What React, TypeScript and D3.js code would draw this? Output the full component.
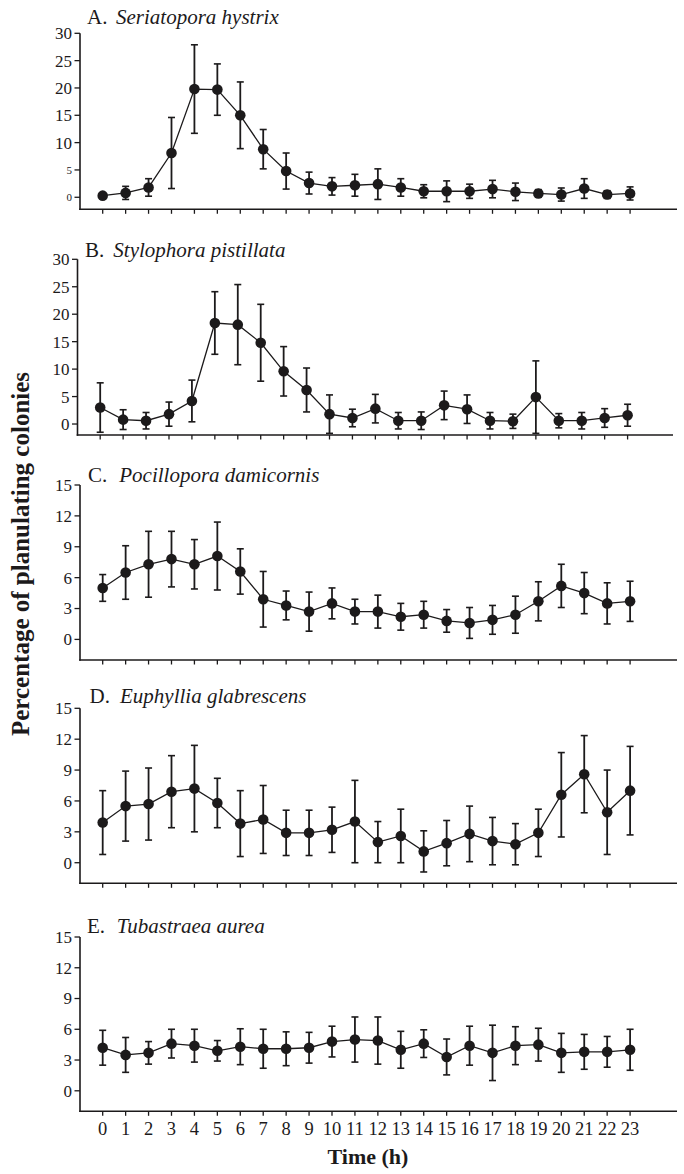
import React from "react";
import * as d3 from "d3";

const hours = d3.range(0, 24);
const hourLabels = hours.map((h) => String(h));

const letters = ["A.", "B.", "C.", "D.", "E."];
const species = [
  "Seriatopora hystrix",
  "Stylophora pistillata",
  "Pocillopora damicornis",
  "Euphyllia glabrescens",
  "Tubastraea aurea",
];

const meanA = [0.3, 0.8, 1.8, 8.1, 19.8, 19.7, 15.0, 8.8, 4.8, 2.6, 2.0, 2.2, 2.4, 1.8, 1.1, 1.1, 1.1, 1.5, 1.0, 0.7, 0.5, 1.6, 0.5, 0.7];
const errA = [0, 1.2, 1.6, 6.5, 8.1, 4.7, 6.1, 3.6, 3.3, 2.0, 1.6, 2.0, 2.8, 1.6, 1.2, 1.9, 1.3, 1.6, 1.6, 0.7, 1.2, 1.8, 0.7, 1.2];

const meanB = [3.0, 0.8, 0.6, 1.8, 4.2, 18.4, 18.1, 14.8, 9.6, 6.2, 1.8, 1.1, 2.8, 0.6, 0.6, 3.4, 2.7, 0.6, 0.5, 4.9, 0.6, 0.6, 1.1, 1.6];
const errB = [4.5, 1.8, 1.5, 2.2, 3.8, 5.7, 7.3, 7.0, 4.5, 4.0, 3.5, 1.6, 2.6, 1.5, 1.6, 2.6, 2.6, 1.5, 1.3, 6.6, 1.3, 1.5, 1.7, 2.0];

const meanC = [5.0, 6.5, 7.3, 7.8, 7.3, 8.1, 6.6, 3.9, 3.3, 2.7, 3.5, 2.7, 2.7, 2.2, 2.4, 1.8, 1.6, 1.9, 2.4, 3.7, 5.2, 4.5, 3.5, 3.7];
const errC = [1.3, 2.6, 3.2, 2.7, 2.4, 3.3, 2.2, 2.7, 1.4, 1.9, 1.5, 1.2, 1.6, 1.3, 1.3, 1.1, 1.5, 1.4, 1.8, 1.9, 2.1, 2.0, 2.0, 1.95];

const meanD = [3.9, 5.5, 5.7, 6.9, 7.2, 5.8, 3.8, 4.2, 2.9, 2.9, 3.2, 4.0, 2.0, 2.6, 1.1, 1.9, 2.8, 2.1, 1.8, 2.9, 6.6, 8.6, 4.9, 7.0];
const errD = [3.1, 3.4, 3.5, 3.5, 4.2, 2.4, 3.2, 3.3, 2.2, 2.2, 2.2, 4.0, 2.0, 2.6, 2.0, 2.2, 2.7, 2.3, 2.0, 2.3, 4.1, 3.75, 4.1, 4.3];

const meanE = [4.2, 3.5, 3.7, 4.6, 4.4, 3.9, 4.3, 4.1, 4.1, 4.2, 4.8, 5.0, 4.9, 4.0, 4.6, 3.3, 4.4, 3.7, 4.4, 4.5, 3.7, 3.8, 3.8, 4.0];
const errE = [1.7, 1.7, 1.1, 1.4, 1.6, 1.0, 1.75, 1.9, 1.65, 1.5, 1.5, 2.2, 2.3, 1.8, 1.35, 1.75, 1.9, 2.7, 1.85, 1.6, 1.9, 1.7, 1.5, 2.0];

const ticksAB = [0, 5, 10, 15, 20, 25, 30];
const ticksCDE = [0, 3, 6, 9, 12, 15];
const smallTicksA = [0, 5];

const yLabel = "Percentage of planulating colonies";
const xLabel = "Time (h)";

const INK = "#1c1a1b";
const FONT = "'Liberation Serif', 'Times New Roman', serif";

type PanelGeom = {
  axisX: number;
  x0: number;
  xEnd: number;
  yTop: number;
  axisY: number;
  domain: [number, number];
  titleX: number;
  titleY: number;
  speciesX: number;
};

const geoms: PanelGeom[] = [
  { axisX: 80, x0: 102.7, xEnd: 677, yTop: 33.3, axisY: 209.3, domain: [-2.2, 30], titleX: 87, titleY: 24, speciesX: 116 },
  { axisX: 77.5, x0: 100.2, xEnd: 673, yTop: 259.3, axisY: 435, domain: [-2, 30], titleX: 85, titleY: 256.7, speciesX: 113.3 },
  { axisX: 80, x0: 102.7, xEnd: 677, yTop: 485, axisY: 660, domain: [-2, 15], titleX: 88, titleY: 482, speciesX: 119.3 },
  { axisX: 80, x0: 102.7, xEnd: 677, yTop: 708.3, axisY: 883.3, domain: [-2, 15], titleX: 89.5, titleY: 703, speciesX: 120 },
  { axisX: 80, x0: 102.7, xEnd: 677, yTop: 937, axisY: 1111.3, domain: [-2, 15], titleX: 87, titleY: 933, speciesX: 116.7 },
];

const means = [meanA, meanB, meanC, meanD, meanE];
const errs = [errA, errB, errC, errD, errE];
const tickSets = [ticksAB, ticksAB, ticksCDE, ticksCDE, ticksCDE];

function Panel({ idx }: { idx: number }) {
  const g = geoms[idx];
  const m = means[idx];
  const e = errs[idx];
  const ticks = tickSets[idx];
  const x = d3
    .scaleLinear()
    .domain([0, 23])
    .range([g.x0, g.x0 + 23 * 22.93]);
  const y = d3.scaleLinear().domain(g.domain).range([g.axisY, g.yTop]);
  const line = d3
    .line<number>()
    .x((_, i) => x(hours[i]))
    .y((v) => y(v));
  const isLast = idx === 4;
  return (
    <g>
      <text x={g.titleX} y={g.titleY} fontSize={21} fontFamily={FONT} fill={INK}>
        <tspan>{letters[idx]}</tspan>
        <tspan x={g.speciesX} fontStyle="italic">
          {species[idx]}
        </tspan>
      </text>
      <line x1={g.axisX} x2={g.axisX} y1={y(d3.max(ticks) as number)} y2={g.axisY + 0.8} stroke={INK} strokeWidth={1.6} />
      <line x1={g.axisX - 0.8} x2={g.xEnd} y1={g.axisY} y2={g.axisY} stroke={INK} strokeWidth={1.6} />
      {ticks.map((t) => {
        const small = idx === 0 && smallTicksA.includes(t);
        return (
          <g key={t}>
            <line x1={g.axisX - 5.5} x2={g.axisX} y1={y(t)} y2={y(t)} stroke={INK} strokeWidth={1.3} />
            <text
              x={g.axisX - 8}
              y={y(t)}
              dy="0.35em"
              textAnchor="end"
              fontSize={small ? 11 : 17}
              fontFamily={FONT}
              fill={INK}
            >
              {t}
            </text>
          </g>
        );
      })}
      {hours.map((h) => (
        <line key={h} x1={x(h)} x2={x(h)} y1={g.axisY} y2={g.axisY + 4.5} stroke={INK} strokeWidth={1.3} />
      ))}
      {isLast &&
        hours.map((h) => (
          <text key={"l" + h} x={x(h)} y={g.axisY + 24} textAnchor="middle" fontSize={18.5} fontFamily={FONT} fill={INK}>
            {hourLabels[h]}
          </text>
        ))}
      {m.map((v, i) =>
        e[i] > 0 ? (
          <g key={"e" + i}>
            <line x1={x(hours[i])} x2={x(hours[i])} y1={y(v - e[i])} y2={y(v + e[i])} stroke={INK} strokeWidth={1.8} />
            <line x1={x(hours[i]) - 3.5} x2={x(hours[i]) + 3.5} y1={y(v + e[i])} y2={y(v + e[i])} stroke={INK} strokeWidth={1.6} />
            <line x1={x(hours[i]) - 3.5} x2={x(hours[i]) + 3.5} y1={y(v - e[i])} y2={y(v - e[i])} stroke={INK} strokeWidth={1.6} />
          </g>
        ) : null
      )}
      <path d={line(m) || ""} fill="none" stroke={INK} strokeWidth={1.3} />
      {m.map((v, i) => (
        <circle key={"c" + i} cx={x(hours[i])} cy={y(v)} r={5.3} fill={INK} />
      ))}
    </g>
  );
}

export default function App() {
  return (
    <svg
      width={684}
      height={1174}
      viewBox="0 0 684 1174"
      style={{ position: "absolute", left: 0, top: 0, background: "#fff" }}
    >
      <rect x={0} y={0} width={684} height={1174} fill="#fff" />
      {geoms.map((_, i) => (
        <Panel key={i} idx={i} />
      ))}
      <text
        transform="translate(29,554) rotate(-90)"
        textAnchor="middle"
        fontSize={25}
        fontWeight="bold"
        fontFamily={FONT}
        fill={INK}
      >
        {yLabel}
      </text>
      <text x={368} y={1164} textAnchor="middle" fontSize={22} fontWeight="bold" fontFamily={FONT} fill={INK}>
        {xLabel}
      </text>
    </svg>
  );
}
